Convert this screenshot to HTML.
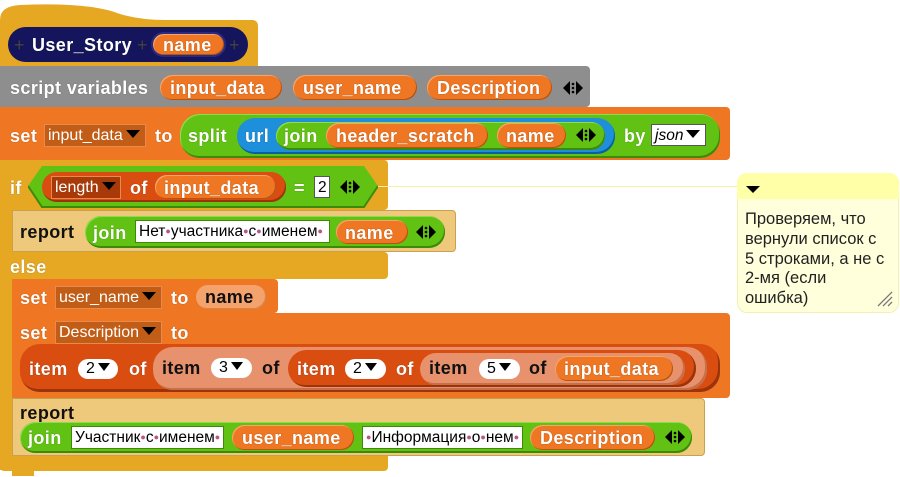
<!DOCTYPE html>
<html><head><meta charset="utf-8">
<style>
body{margin:0;width:900px;height:477px;background:#fff;position:relative;overflow:hidden;font-family:"Liberation Sans",sans-serif}
.a{position:absolute;box-sizing:border-box}
.t{position:absolute;font-weight:bold;font-size:18px;letter-spacing:0.4px;color:#fff;line-height:20px;margin-top:1px;white-space:nowrap;text-shadow:0 0 1px rgba(0,0,0,.4)}
.k{color:#111;text-shadow:none}
.p{position:absolute;box-sizing:border-box;border-radius:20px}
.or{background:#ef7622;box-shadow:inset -1px -1px 0 #b55512,inset 1px 1px 0 #f7a56a}
.gr{background:#62c213;box-shadow:inset -1px -2px 0 #3d8a0a,inset 1px 1px 0 #8fdc4f}
.dd{position:absolute;box-sizing:border-box;background:#c15d16;border:1px solid #e88a4e;color:#fff;font-size:16px;line-height:21px;padding-left:3px;white-space:nowrap}
.tb{position:absolute;box-sizing:border-box;background:#fff;border:1px solid #555;color:#000;font-size:15.5px;line-height:21px;padding-left:3px;white-space:nowrap}
.d{color:#b58;font-size:9px;vertical-align:2px}
.wd{position:absolute;box-sizing:border-box;background:#fff;border-radius:10px;height:20px;color:#000;font-size:16px;line-height:20px;padding-left:8px}
.tri{display:inline-block;width:0;height:0;border-left:7px solid transparent;border-right:7px solid transparent;border-top:8px solid #000;margin-left:3px;vertical-align:2px}
</style></head><body>

<!-- hat block -->
<svg class="a" style="left:0;top:0" width="260" height="72"><path d="M0 66 L0 20 Q0 6 20 5 Q90 2 120 14 Q140 20 165 20 L252 20 Q258 20 258 26 L258 66 Z" fill="#e6a822"/></svg>
<div class="p" style="left:8px;top:27px;width:240px;height:35px;background:#15155e"></div>
<div class="t" style="left:14px;top:34px;color:#444;font-weight:normal">+</div>
<div class="t" style="left:32px;top:34px">User_Story</div>
<div class="t" style="left:137px;top:34px;color:#444;font-weight:normal">+</div>
<div class="p or" style="left:151px;top:32px;width:75px;height:25px;border:2px solid #2a2a80"></div>
<div class="t" style="left:163px;top:34px">name</div>
<div class="t" style="left:229px;top:34px;color:#444;font-weight:normal">+</div>

<!-- script variables -->
<div class="a" style="left:0;top:66px;width:590px;height:41px;background:#8e8e8e;border-radius:0 4px 4px 0"></div>
<div class="t" style="left:10px;top:77px">script variables</div>
<div class="p or" style="left:160px;top:75px;width:122px;height:25px"></div>
<div class="t" style="left:170px;top:77px">input_data</div>
<div class="p or" style="left:293px;top:75px;width:124px;height:25px"></div>
<div class="t" style="left:303px;top:77px">user_name</div>
<div class="p or" style="left:427px;top:75px;width:125px;height:25px"></div>
<div class="t" style="left:437px;top:77px">Description</div>
<svg class="a" style="left:563px;top:80px" width="20" height="16"><path d="M0 8 L7 1 V15Z M20 8 L13 1 V15Z" fill="#000"/><circle cx="10" cy="4" r="1.3"/><circle cx="10" cy="8" r="1.3"/><circle cx="10" cy="12" r="1.3"/></svg>

<!-- set input_data -->
<div class="a" style="left:0;top:107px;width:730px;height:53px;background:#ef7622;border-radius:0 4px 4px 0"></div>
<div class="t" style="left:10px;top:125px">set</div>
<div class="dd" style="left:44px;top:124px;width:102px;height:23px">input_data<span class="tri"></span></div>
<div class="t" style="left:155px;top:125px">to</div>
<div class="p gr" style="left:180px;top:114px;width:540px;height:44px"></div>
<div class="t" style="left:188px;top:125px">split</div>
<div class="p" style="left:237px;top:118px;width:378px;height:36px;background:#1d8fdb;box-shadow:inset -1px -2px 0 #0c5f9c"></div>
<div class="t" style="left:245px;top:125px">url</div>
<div class="p gr" style="left:276px;top:122px;width:329px;height:28px"></div>
<div class="t" style="left:284px;top:125px">join</div>
<div class="p or" style="left:326px;top:123px;width:162px;height:25px"></div>
<div class="t" style="left:336px;top:125px">header_scratch</div>
<div class="p or" style="left:497px;top:123px;width:69px;height:25px"></div>
<div class="t" style="left:506px;top:125px">name</div>
<svg class="a" style="left:576px;top:127px" width="20" height="16"><path d="M0 8 L7 1 V15Z M20 8 L13 1 V15Z" fill="#000"/><circle cx="10" cy="4" r="1.3"/><circle cx="10" cy="8" r="1.3"/><circle cx="10" cy="12" r="1.3"/></svg>
<div class="t" style="left:624px;top:125px">by</div>
<div class="tb" style="left:651px;top:124px;width:55px;height:22px;font-style:italic">json<span class="tri" style="font-style:normal"></span></div>

<!-- if/else -->
<div class="a" style="left:0;top:160px;width:388px;height:50px;background:#e6a822;border-radius:0 4px 4px 0"></div>
<div class="a" style="left:0;top:160px;width:12px;height:310px;background:#e6a822"></div>
<div class="a" style="left:0;top:252px;width:388px;height:27px;background:#e6a822;border-radius:0 4px 4px 0"></div>
<div class="a" style="left:0;top:456px;width:388px;height:15px;background:#e6a822;border-radius:0 0 4px 4px"></div>
<div class="a" style="left:12px;top:470px;width:22px;height:6px;background:#e6a822"></div>
<div class="t" style="left:10px;top:177px">if</div>
<svg class="a" style="left:28px;top:166px" width="350" height="42"><path d="M14 0 H336 L350 20 L336 41 H14 L0 20 Z" fill="#62c213"/><path d="M0 20 L14 41 H336 L350 20" fill="none" stroke="#3d8a0a" stroke-width="2"/></svg>
<div class="p" style="left:42px;top:172px;width:244px;height:30px;background:#d94d11;box-shadow:inset -1px -2px 0 #9b340a"></div>
<div class="dd" style="left:51px;top:176px;width:70px;height:23px;background:#a83a0a">length<span class="tri"></span></div>
<div class="t" style="left:130px;top:177px">of</div>
<div class="p or" style="left:155px;top:175px;width:121px;height:24px"></div>
<div class="t" style="left:164px;top:177px">input_data</div>
<div class="t" style="left:294px;top:177px">=</div>
<div class="tb" style="left:314px;top:176px;width:16px;height:22px">2</div>
<svg class="a" style="left:340px;top:179px" width="20" height="16"><path d="M0 8 L7 1 V15Z M20 8 L13 1 V15Z" fill="#000"/><circle cx="10" cy="4" r="1.3"/><circle cx="10" cy="8" r="1.3"/><circle cx="10" cy="12" r="1.3"/></svg>

<!-- report 1 -->
<div class="a" style="left:12px;top:210px;width:444px;height:42px;background:#eec97c;border:1px solid #c9a14e;border-radius:0 4px 4px 0"></div>
<div class="t k" style="left:20px;top:221px">report</div>
<div class="p gr" style="left:85px;top:216px;width:360px;height:32px"></div>
<div class="t" style="left:93px;top:222px">join</div>
<div class="tb" style="left:135px;top:220px;width:195px;height:23px;border-color:#3d8a0a">Нет<span class="d">●</span>участника<span class="d">●</span>с<span class="d">●</span>именем<span class="d">●</span></div>
<div class="p or" style="left:336px;top:220px;width:72px;height:24px"></div>
<div class="t" style="left:345px;top:222px">name</div>
<svg class="a" style="left:416px;top:224px" width="20" height="16"><path d="M0 8 L7 1 V15Z M20 8 L13 1 V15Z" fill="#000"/><circle cx="10" cy="4" r="1.3"/><circle cx="10" cy="8" r="1.3"/><circle cx="10" cy="12" r="1.3"/></svg>

<div class="t" style="left:10px;top:256px">else</div>

<!-- set user_name -->
<div class="a" style="left:12px;top:279px;width:266px;height:34px;background:#ef7622;border-radius:0 4px 4px 0"></div>
<div class="t" style="left:20px;top:287px">set</div>
<div class="dd" style="left:55px;top:286px;width:107px;height:23px">user_name<span class="tri"></span></div>
<div class="t" style="left:171px;top:287px">to</div>
<div class="p" style="left:196px;top:285px;width:70px;height:24px;background:#f4a36d;box-shadow:inset -1px -1px 0 #d6844c"></div>
<div class="t k" style="left:205px;top:286px">name</div>

<!-- set Description -->
<div class="a" style="left:12px;top:313px;width:718px;height:85px;background:#ef7622;border-radius:0 4px 4px 0"></div>
<div class="t" style="left:20px;top:322px">set</div>
<div class="dd" style="left:55px;top:321px;width:107px;height:23px">Description<span class="tri"></span></div>
<div class="t" style="left:171px;top:322px">to</div>
<div class="p" style="left:20px;top:344px;width:700px;height:48px;background:#d94d11;box-shadow:inset -2px -3px 0 #9b340a"></div>
<div class="t" style="left:29px;top:358px">item</div>
<div class="wd" style="left:78px;top:359px;width:40px">2<span class="tri" style="border-width:8px 6px 0"></span></div>
<div class="t" style="left:129px;top:358px">of</div>
<div class="p" style="left:153px;top:347px;width:554px;height:43px;background:#e8916d;box-shadow:inset -2px -2px 0 #c66f4b"></div>
<div class="t k" style="left:162px;top:357px">item</div>
<div class="wd" style="left:211px;top:358px;width:41px">3<span class="tri" style="border-width:8px 6px 0"></span></div>
<div class="t k" style="left:262px;top:357px">of</div>
<div class="p" style="left:288px;top:350px;width:408px;height:37px;background:#d94d11;box-shadow:inset -2px -2px 0 #9b340a"></div>
<div class="t" style="left:297px;top:358px">item</div>
<div class="wd" style="left:345px;top:359px;width:41px">2<span class="tri" style="border-width:8px 6px 0"></span></div>
<div class="t" style="left:396px;top:358px">of</div>
<div class="p" style="left:420px;top:353px;width:265px;height:32px;background:#e8916d;box-shadow:inset -2px -2px 0 #c66f4b"></div>
<div class="t k" style="left:429px;top:357px">item</div>
<div class="wd" style="left:479px;top:359px;width:41px">5<span class="tri" style="border-width:8px 6px 0"></span></div>
<div class="t k" style="left:529px;top:357px">of</div>
<div class="p or" style="left:555px;top:356px;width:118px;height:25px"></div>
<div class="t" style="left:564px;top:358px">input_data</div>

<!-- report 2 -->
<div class="a" style="left:12px;top:398px;width:693px;height:58px;background:#eec97c;border:1px solid #c9a14e;border-radius:0 4px 4px 0"></div>
<div class="t k" style="left:20px;top:402px">report</div>
<div class="p gr" style="left:20px;top:422px;width:672px;height:31px"></div>
<div class="t" style="left:28px;top:427px">join</div>
<div class="tb" style="left:71px;top:426px;width:153px;height:23px;border-color:#3d8a0a">Участник<span class="d">●</span>с<span class="d">●</span>именем<span class="d">●</span></div>
<div class="p or" style="left:232px;top:425px;width:122px;height:25px"></div>
<div class="t" style="left:242px;top:427px">user_name</div>
<div class="tb" style="left:362px;top:426px;width:161px;height:23px;border-color:#3d8a0a"><span class="d">●</span>Информация<span class="d">●</span>о<span class="d">●</span>нем<span class="d">●</span></div>
<div class="p or" style="left:530px;top:425px;width:125px;height:25px"></div>
<div class="t" style="left:540px;top:427px">Description</div>
<svg class="a" style="left:665px;top:429px" width="20" height="16"><path d="M0 8 L7 1 V15Z M20 8 L13 1 V15Z" fill="#000"/><circle cx="10" cy="4" r="1.3"/><circle cx="10" cy="8" r="1.3"/><circle cx="10" cy="12" r="1.3"/></svg>

<!-- comment -->
<div class="a" style="left:378px;top:186px;width:360px;height:1px;background:#f6f0a0"></div>
<div class="a" style="left:737px;top:173px;width:162px;height:140px;background:#ffffdc;border-radius:10px;border:1px solid #f2f0b0"></div>
<div class="a" style="left:737px;top:173px;width:162px;height:26px;background:#ffffa8;border-radius:10px 10px 0 0"></div>
<div class="a" style="left:746px;top:186px;width:0;height:0;border-left:7px solid transparent;border-right:7px solid transparent;border-top:7px solid #000"></div>
<div class="a" style="left:745px;top:210px;font-size:16.5px;line-height:19.8px;color:#222;white-space:nowrap">Проверяем, что<br>вернули список с<br>5 строками, а не с<br>2-мя (если<br>ошибка)</div>
<svg class="a" style="left:876px;top:290px" width="18" height="18"><path d="M2 16 L16 2 M7 16 L16 7 M12 16 L16 12" stroke="#777" stroke-width="1.3"/></svg>
</body></html>
